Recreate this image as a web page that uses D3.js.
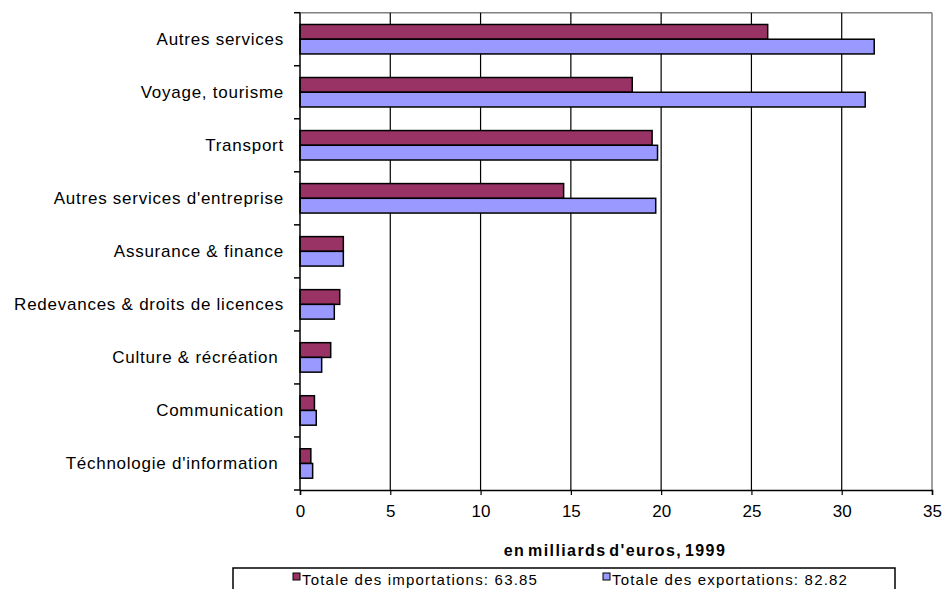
<!DOCTYPE html>
<html>
<head>
<meta charset="utf-8">
<script src="https://cdn.jsdelivr.net/npm/d3@7"></script>
<style>
  html, body { margin: 0; padding: 0; background: #fff; }
  svg { display: block; font-family: "Liberation Sans", Arial, sans-serif; }
  text { white-space: pre; }
</style>
</head>
<body>
<svg id="chart" width="946" height="589"></svg>
<script>
const categories = ["Autres services", "Voyage, tourisme", "Transport", "Autres services d'entreprise", "Assurance & finance", "Redevances & droits de licences", "Culture & récréation ", "Communication", "Téchnologie d'information "];
const importsValues = [25.9, 18.4, 19.5, 14.6, 2.4, 2.2, 1.7, 0.8, 0.6];
const exportsValues = [31.8, 31.3, 19.8, 19.7, 2.4, 1.9, 1.2, 0.9, 0.7];
const seriesNames = ["Totale des importations: 63.85", "Totale des exportations: 82.82"];
const seriesKeys = ["imp", "exp"];
const seriesColors = ["#993366", "#9999FF"];
const xTicks = [0, 5, 10, 15, 20, 25, 30, 35];
const axisTitle = "en milliards d'euros, 1999";

const svg = d3.select("#chart");
const pLeft = 300, pRight = 932, pTop = 12.7, pBottom = 490;

const x = d3.scaleLinear().domain([0, 35]).range([pLeft, pRight]);
const y = d3.scaleBand().domain(categories).range([pTop, pBottom]).padding(0);
const ys = d3.scaleBand().domain(seriesKeys).range([0, y.bandwidth()]).paddingInner(0).paddingOuter(0.8);

// plot border (top & right, grey)
svg.append("line").attr("x1", pLeft).attr("x2", pRight).attr("y1", pTop).attr("y2", pTop)
  .attr("stroke", "#808080").attr("stroke-width", 1.5);
svg.append("line").attr("x1", pRight).attr("x2", pRight).attr("y1", pTop).attr("y2", pBottom)
  .attr("stroke", "#808080").attr("stroke-width", 1.5);

// vertical gridlines
svg.append("g").selectAll("line").data(xTicks.filter(d => d > 0 && d < 35)).join("line")
  .attr("x1", d => x(d)).attr("x2", d => x(d)).attr("y1", pTop).attr("y2", pBottom)
  .attr("stroke", "#000").attr("stroke-width", 1.2);

// bars
const rows = categories.map((c, i) => ({ c, imp: importsValues[i], exp: exportsValues[i] }));
const g = svg.append("g");
seriesKeys.forEach((k, si) => {
  g.selectAll("rect.s" + si).data(rows).join("rect")
    .attr("class", "s" + si)
    .attr("x", x(0))
    .attr("y", d => y(d.c) + ys(k))
    .attr("width", d => x(d[k]) - x(0))
    .attr("height", ys.bandwidth())
    .attr("fill", seriesColors[si])
    .attr("stroke", "#000")
    .attr("stroke-width", 1.5);
});

// x axis
const xAxis = d3.axisBottom(x).tickValues(xTicks).tickSize(5).tickPadding(10).tickFormat(d3.format("d"));
const gx = svg.append("g").attr("transform", `translate(0,${pBottom})`).call(xAxis);
gx.select(".domain").attr("stroke", "#000").attr("stroke-width", 1.5);
gx.selectAll(".tick line").attr("stroke", "#000").attr("stroke-width", 1.2);
gx.selectAll(".tick text").attr("font-size", 17).attr("fill", "#000")
  .attr("font-family", "'Liberation Sans', Arial, sans-serif");

// y axis: ticks at band boundaries
const boundaries = categories.map(c => y(c)).concat([pBottom]);
svg.append("line").attr("x1", pLeft).attr("x2", pLeft).attr("y1", pTop).attr("y2", pBottom)
  .attr("stroke", "#000").attr("stroke-width", 1.5);
svg.append("g").selectAll("line").data(boundaries).join("line")
  .attr("x1", pLeft - 6).attr("x2", pLeft).attr("y1", d => d).attr("y2", d => d)
  .attr("stroke", "#000").attr("stroke-width", 1.5);

// category labels
svg.append("g").selectAll("text").data(categories).join("text")
  .attr("x", 284)
  .attr("y", d => y(d) + y.bandwidth() / 2 + 6)
  .attr("text-anchor", "end")
  .attr("font-size", 17)
  .attr("letter-spacing", 0.75)
  .attr("fill", "#000")
  .text(d => d);

// axis title
svg.append("text")
  .attr("x", 615).attr("y", 556)
  .attr("text-anchor", "middle")
  .attr("font-size", 16).attr("font-weight", "bold")
  .attr("letter-spacing", 1.4)
  .attr("word-spacing", -3)
  .attr("fill", "#000")
  .text(axisTitle);

// legend
svg.append("rect").attr("x", 233).attr("y", 568).attr("width", 662).attr("height", 40)
  .attr("fill", "#fff").attr("stroke", "#000").attr("stroke-width", 1.5);
const legendX = [293, 603];
seriesNames.forEach((name, i) => {
  svg.append("rect").attr("x", legendX[i]).attr("y", 573).attr("width", 7).attr("height", 7)
    .attr("fill", seriesColors[i]).attr("stroke", "#000").attr("stroke-width", 1);
  svg.append("text").attr("x", legendX[i] + 9).attr("y", 585)
    .attr("font-size", 15).attr("letter-spacing", 1.2).attr("fill", "#000")
    .text(name);
});
</script>
</body>
</html>
